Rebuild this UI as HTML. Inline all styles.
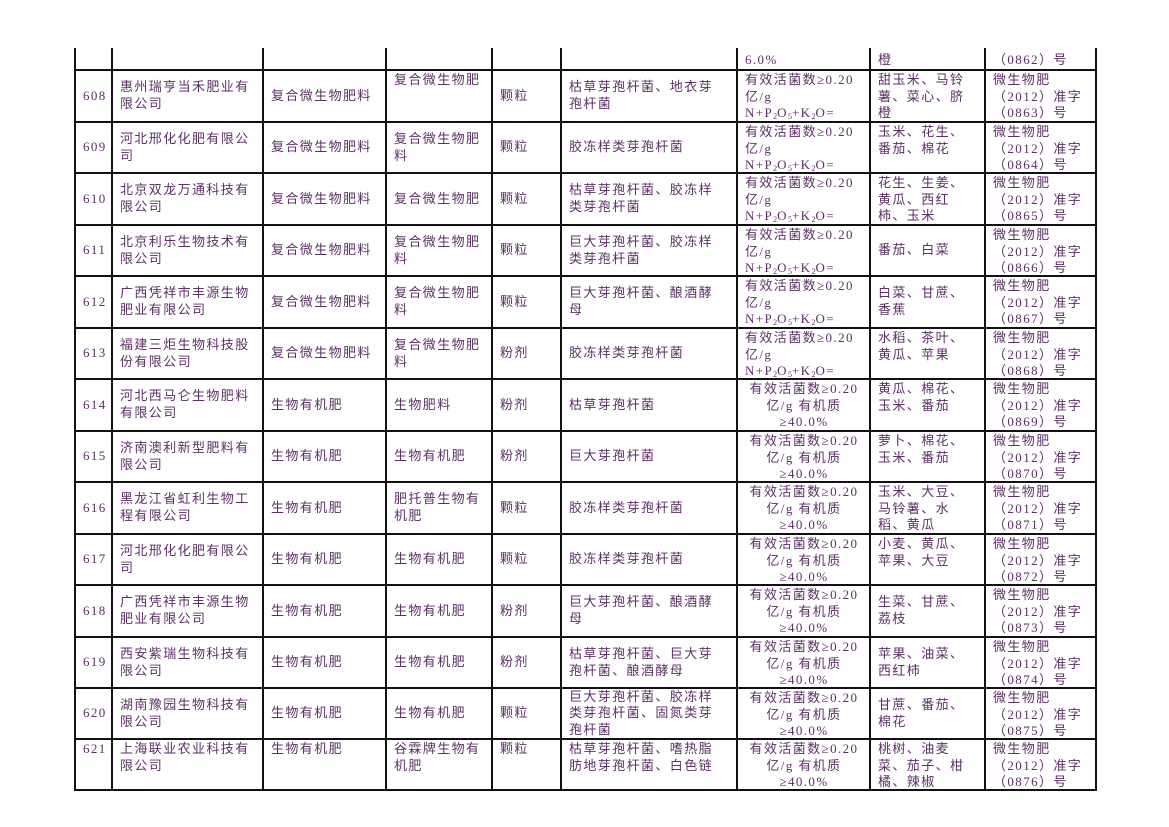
<!DOCTYPE html>
<html><head><meta charset="utf-8"><style>
body{margin:0;background:#fff;width:1169px;height:827px;overflow:hidden;position:relative;font-family:"Liberation Serif","Noto Serif CJK SC",serif;}
.c{position:absolute;box-sizing:border-box;padding:0 6px 0 7px;display:flex;flex-direction:column;justify-content:center;color:#5e2f68;font-size:13px;line-height:16.6px;letter-spacing:1.4px;overflow:hidden;font-family:"Liberation Serif","Noto Sans CJK SC",sans-serif;}
.c.t{justify-content:flex-start;padding-top:1px}
.c.b{justify-content:flex-end}
.c.m{text-align:center}
.c.s{padding-right:16px}
.vl{position:absolute;width:2px;background:#111}
.hl{position:absolute;height:2px;background:#111;left:74px;width:1023px}
sub{font-size:8px;line-height:0;vertical-align:-2px;letter-spacing:0}
</style></head><body>
<div id="tbl"></div>
<script>
const xs=[74,111,262,385,491,560,736,869,984,1095];
const ys=[69,121,172,224,275,327,378,430,481,533,584,636,687,738,789];
const F='有效活菌数≥0.20<br>亿/g N+P<sub>2</sub>O<sub>5</sub>+K<sub>2</sub>O=<br>';
const O='有效活菌数≥0.20<br>亿/g 有机质<br>≥40.0%';
const rows=[
['608','惠州瑞亨当禾肥业有限公司','复合微生物肥料','复合微生物肥','颗粒','枯草芽孢杆菌、地衣芽孢杆菌',F+'20.0%','甜玉米、马铃薯、菜心、脐橙','0863'],
['609','河北邢化化肥有限公司','复合微生物肥料','复合微生物肥料','颗粒','胶冻样类芽孢杆菌',F+'25.0%','玉米、花生、番茄、棉花','0864'],
['610','北京双龙万通科技有限公司','复合微生物肥料','复合微生物肥','颗粒','枯草芽孢杆菌、胶冻样类芽孢杆菌',F+'25.0%','花生、生姜、黄瓜、西红柿、玉米','0865'],
['611','北京利乐生物技术有限公司','复合微生物肥料','复合微生物肥料','颗粒','巨大芽孢杆菌、胶冻样类芽孢杆菌',F+'6.0%','番茄、白菜','0866'],
['612','广西凭祥市丰源生物肥业有限公司','复合微生物肥料','复合微生物肥料','颗粒','巨大芽孢杆菌、酿酒酵母',F+'6.0%','白菜、甘蔗、香蕉','0867'],
['613','福建三炬生物科技股份有限公司','复合微生物肥料','复合微生物肥料','粉剂','胶冻样类芽孢杆菌',F+'8.0%','水稻、茶叶、黄瓜、苹果','0868'],
['614','河北西马仑生物肥料有限公司','生物有机肥','生物肥料','粉剂','枯草芽孢杆菌',O,'黄瓜、棉花、玉米、番茄','0869'],
['615','济南澳利新型肥料有限公司','生物有机肥','生物有机肥','粉剂','巨大芽孢杆菌',O,'萝卜、棉花、玉米、番茄','0870'],
['616','黑龙江省虹利生物工程有限公司','生物有机肥','肥托普生物有机肥','颗粒','胶冻样类芽孢杆菌',O,'玉米、大豆、马铃薯、水稻、黄瓜','0871'],
['617','河北邢化化肥有限公司','生物有机肥','生物有机肥','颗粒','胶冻样类芽孢杆菌',O,'小麦、黄瓜、苹果、大豆','0872'],
['618','广西凭祥市丰源生物肥业有限公司','生物有机肥','生物有机肥','粉剂','巨大芽孢杆菌、酿酒酵母',O,'生菜、甘蔗、荔枝','0873'],
['619','西安紫瑞生物科技有限公司','生物有机肥','生物有机肥','粉剂','枯草芽孢杆菌、巨大芽孢杆菌、酿酒酵母',O,'苹果、油菜、西红柿','0874'],
['620','湖南豫园生物科技有限公司','生物有机肥','生物有机肥','颗粒','巨大芽孢杆菌、胶冻样类芽孢杆菌、固氮类芽孢杆菌',O,'甘蔗、番茄、棉花','0875'],
['621','上海联业农业科技有限公司','生物有机肥','谷霖牌生物有机肥','颗粒','枯草芽孢杆菌、嗜热脂肪地芽孢杆菌、白色链',O,'桃树、油麦菜、茄子、柑橘、辣椒','0876']
];
const colNames=['row-number','company-name','product-category','product-name','form','strain','content','crops','registration-number'];
const tbl=document.getElementById('tbl');
function cell(x0,x1,y0,y1,html,cls,name){
  const d=document.createElement('div');
  d.className='c '+cls;
  d.style.left=(x0+2)+'px';d.style.width=(x1-x0-2)+'px';
  d.style.top=(y0+2)+'px';d.style.height=(y1-y0-2)+'px';
  const inner=document.createElement('div');
  inner.innerHTML=html;
  d.appendChild(inner);
  
  
  tbl.appendChild(d);
}
cell(xs[6],xs[7],48,69,'6.0%','b','content-cell-prev');
cell(xs[7],xs[8],48,69,'橙','b','crops-cell-prev');
cell(xs[8],xs[9],48,69,'（0862）号','b','registration-cell-prev');
rows.forEach((r,i)=>{
  const y0=ys[i],y1=ys[i+1],last=i===rows.length-1;
  for(let j=0;j<9;j++){
    let h=r[j],cls='';
    if(j===8){h='微生物肥<br>（2012）准字<br>（'+h+'）号';cls='t';}
    else if(j===6){cls=i>=6?'t m':'t';}
    else if(j===7){cls=(r[7].length>10)?'t':'';}
    if(j===5)cls+=' s';
    if(last&&j<6)cls+=' t';
    if(i===0&&j===3)cls='t';
    cell(xs[j],xs[j+1],y0,y1,h,cls,colNames[j]+'-'+r[0]);
  }
});
xs.forEach((x,k)=>{
  const v=document.createElement('div');v.className='vl';
  v.style.left=x+'px';v.style.top='48px';v.style.height=(789-48+2)+'px';
  
  
  tbl.appendChild(v);
});
ys.forEach(y=>{
  const h=document.createElement('div');h.className='hl';h.style.top=y+'px';
  
  
  tbl.appendChild(h);
});
</script>
</body></html>
